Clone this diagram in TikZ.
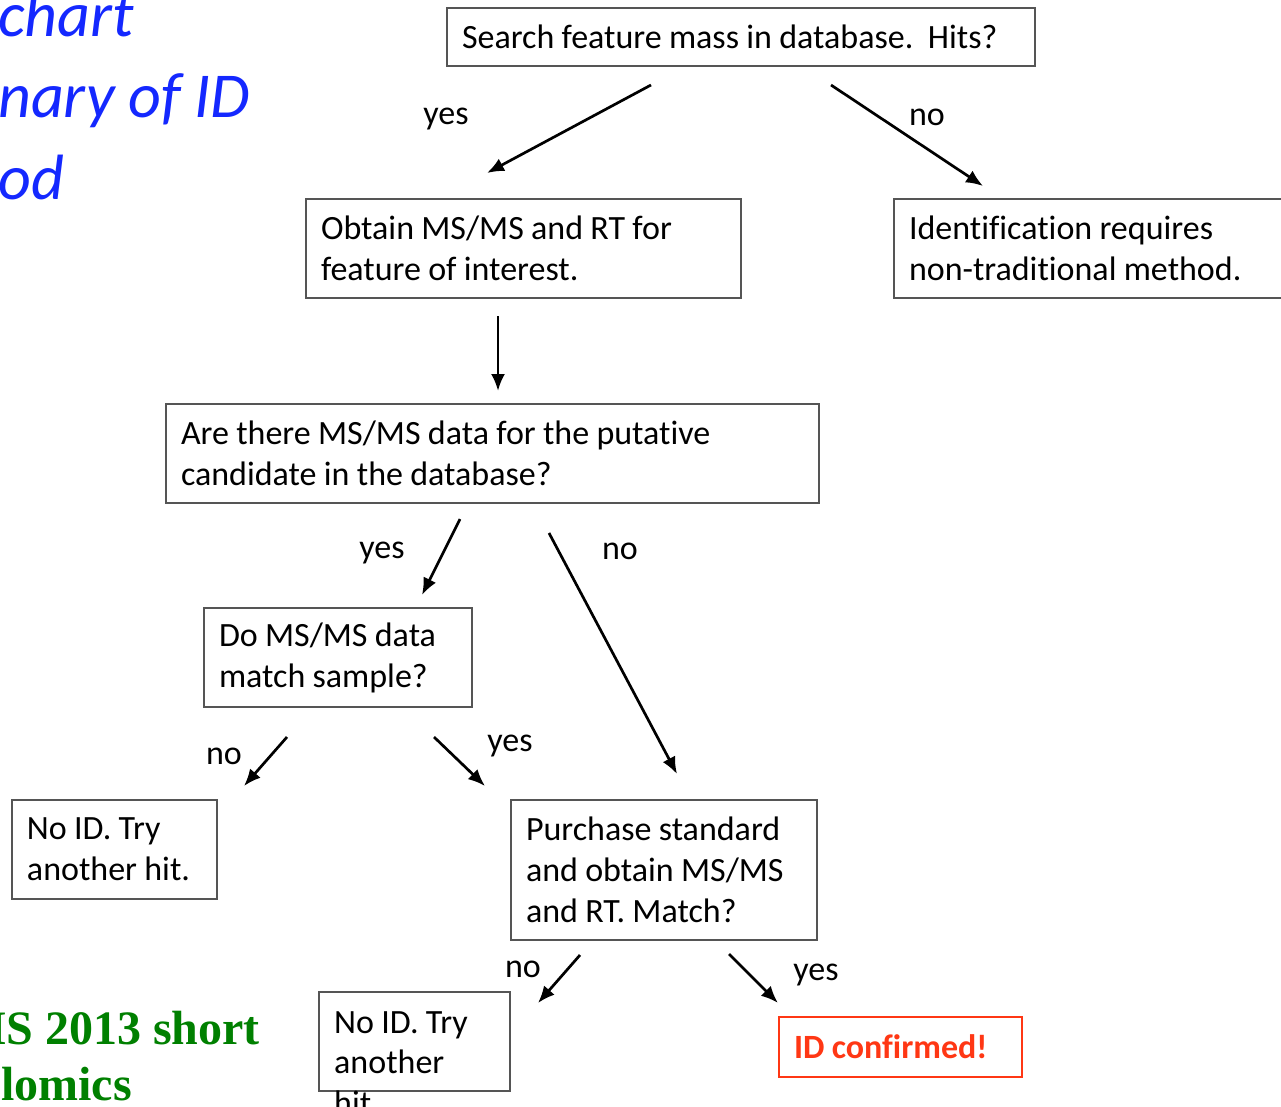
\documentclass[tikz,border=0pt]{standalone}
\usepackage{fontspec}
\setmainfont{Carlito}[WordSpace=0.95, Ligatures={NoCommon}]
\newfontfamily\serifb{Liberation Serif}
\usetikzlibrary{arrows.meta}
\definecolor{bordergray}{RGB}{85,85,85}
\definecolor{idred}{RGB}{255,55,20}
\definecolor{titleblue}{RGB}{20,40,255}
\definecolor{titlegreen}{RGB}{0,128,0}
\begin{document}
\begin{tikzpicture}[x=1pt,y=-1pt,
  box/.style={draw=bordergray, line width=2pt, fill=white, inner xsep=15pt, inner ysep=0pt, align=flush left, font=\fontsize{34}{41}\selectfont},
  arr/.style={-{Latex[length=17pt,width=14pt]}, line width=2.7pt},
  lbl/.style={font=\fontsize{34}{41}\selectfont, inner sep=0pt},
  bluetitle/.style={anchor=base west, inner sep=0pt, text=titleblue, font=\itshape\fontsize{64}{80}\selectfont},
  greentitle/.style={inner sep=0pt, text=titlegreen, font=\serifb\bfseries\fontsize{48}{55}\selectfont}
]
\useasboundingbox (0,0) rectangle (1281,1107);

% titles (partly cut by the page edge)
\node[bluetitle] (t1) at (-2,37) {chart};
\node[bluetitle] (t2) at (-2,118) {nary of ID};
\node[bluetitle] (t3) at (-2,200) {od};
\node[greentitle, anchor=base east] (g1) at (260,1044) {MS 2013 short};
\node[greentitle, anchor=base west] (g2) at (1,1100) {lomics};

% boxes
\node[box, minimum width=588pt, minimum height=58pt, text width=558pt] (search) at (741,37)
  {Search feature mass in database.\ \ Hits?};
\node[box, minimum width=435pt, minimum height=99pt, text width=405pt] (obtain) at (523.5,248.5)
  {Obtain MS/MS and RT for\\feature of interest.};
\node[box, minimum width=400pt, minimum height=99pt, text width=370pt] (ident) at (1094,248.5)
  {Identification requires\\non-traditional method.};
\node[box, minimum width=653pt, minimum height=99pt, text width=623pt] (arethere) at (492.5,453.5)
  {Are there MS/MS data for the putative\\candidate in the database?};
\node[box, minimum width=268pt, minimum height=99pt, text width=238pt] (domatch) at (338,657.5)
  {Do MS/MS data\\match sample?};
\node[box, minimum width=205pt, minimum height=99pt, text width=175pt] (noidA) at (114.5,849.5)
  {No ID. Try\\another hit.};
\node[box, minimum width=306pt, minimum height=140pt, text width=276pt] (purchase) at (664,870)
  {Purchase standard\\and obtain MS/MS\\and RT. Match?};
\node[box, minimum width=191pt, minimum height=99pt] (noidB) at (414.5,1041.5) {};
\node[lbl, anchor=north west, align=flush left, font=\fontsize{34}{40.5}\selectfont] (noidBtext) at ([xshift=16pt,yshift=-20pt]noidB.north west)
  {No ID. Try\\another\\hit};
\node[box, draw=idred, line width=2.6pt, minimum width=243pt, minimum height=60pt, text width=213pt, text=idred, font=\bfseries\fontsize{34}{41}\selectfont] (confirmed) at (900.5,1047)
  {ID confirmed!};

% arrow end points
\coordinate (a1s) at (651,85);  \coordinate (a1e) at (487,173);
\coordinate (a2s) at (831,85);  \coordinate (a2e) at (983,186);
\coordinate (a3s) at (498,316); \coordinate (a3e) at (498,391);
\coordinate (a4s) at (460,519); \coordinate (a4e) at (422,595);
\coordinate (a5s) at (549,533); \coordinate (a5e) at (677,774);
\coordinate (a6s) at (287,737); \coordinate (a6e) at (244,786);
\coordinate (a7s) at (434,737); \coordinate (a7e) at (485,786);
\coordinate (a8s) at (580,955); \coordinate (a8e) at (538,1003);
\coordinate (a9s) at (729,954); \coordinate (a9e) at (778,1003);

\draw[arr] (a1s) -- (a1e);
\draw[arr] (a2s) -- (a2e);
\draw[arr] (a3s) -- (a3e);
\draw[arr] (a4s) -- (a4e);
\draw[arr] (a5s) -- (a5e);
\draw[arr] (a6s) -- (a6e);
\draw[arr] (a7s) -- (a7e);
\draw[arr] (a8s) -- (a8e);
\draw[arr] (a9s) -- (a9e);

% labels
\node[lbl] (l1) at (446,119) {yes};
\node[lbl] (l2) at (927,117) {no};
\node[lbl] (l3) at (382,553) {yes};
\node[lbl] (l4) at (620,551) {no};
\node[lbl] (l5) at (224,756) {no};
\node[lbl] (l6) at (510,746) {yes};
\node[lbl] (l7) at (523,969) {no};
\node[lbl] (l8) at (816,975) {yes};
\end{tikzpicture}
\end{document}
